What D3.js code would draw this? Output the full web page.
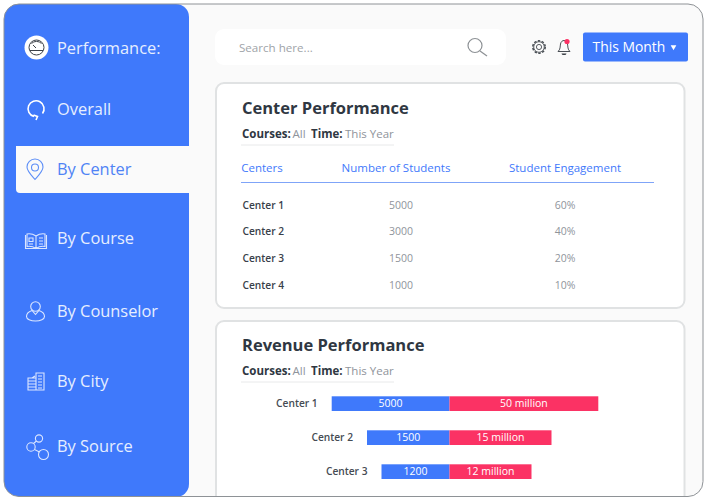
<!DOCTYPE html>
<html>
<head>
<meta charset="utf-8">
<script src="https://cdn.jsdelivr.net/npm/d3@7"></script>
<style>
  html, body { margin: 0; padding: 0; background: #fff; }
  svg { display: block; font-family: "Open Sans", "Noto Sans", sans-serif; }
</style>
</head>
<body>
<div id="chart"></div>
<script>
const navItems = ["Overall", "By Center", "By Course", "By Counselor", "By City", "By Source"];
const tableHeaders = ["Centers", "Number of Students", "Student Engagement"];
const tableCenters = ["Center 1", "Center 2", "Center 3", "Center 4"];
const tableStudents = ["5000", "3000", "1500", "1000"];
const tableEngagement = ["60%", "40%", "20%", "10%"];
const barCenters = ["Center 1", "Center 2", "Center 3"];
const barStudents = [5000, 1500, 1200];
const barRevenue = [50, 15, 12];

const WIDTH = 707;
const HEIGHT = 500;
const BLUE = "#3f79fb";
const RED = "#fb3264";
const DARK = "#2f3742";
const GREY = "#8f949b";
const NAV_TEXT = "#e6eeff";

const svg = d3.select("#chart").append("svg")
  .attr("width", WIDTH).attr("height", HEIGHT)
  .attr("viewBox", [0, 0, WIDTH, HEIGHT]);

const clipFrame = svg.append("clipPath").attr("id", "frame");
clipFrame.append("rect").attr("x", 4).attr("y", 4).attr("width", 699).attr("height", 492.5).attr("rx", 15);

const page = svg.append("g").attr("clip-path", "url(#frame)");
page.append("rect").attr("x", 4).attr("y", 4).attr("width", 699).attr("height", 493).attr("fill", "#fafafa");

// cards go first, the frame outline has to sit over them
function drawCard(y, h) {
  page.append("rect")
    .attr("x", 216).attr("y", y).attr("width", 468.5).attr("height", h).attr("rx", 8)
    .attr("fill", "#fff").attr("stroke", "#e0e2e3").attr("stroke-width", 2);
}

function text(parent, x, y, str, size, fill, weight = 400, anchor = "start") {
  return parent.append("text")
    .attr("x", x).attr("y", y)
    .attr("font-size", size)
    .attr("font-weight", weight)
    .attr("fill", fill)
    .attr("text-anchor", anchor)
    .text(str);
}

function drawCardHead(title, y) {
  text(page, 242, y, title, 16.5, DARK, 700);
  const sub = page.append("text").attr("y", y + 23.5).attr("font-size", 11.5);
  sub.append("tspan").attr("x", 242).attr("font-weight", 700).attr("fill", DARK).text("Courses:");
  sub.append("tspan").attr("x", 292.5).attr("fill", GREY).text("All");
  sub.append("tspan").attr("x", 311).attr("font-weight", 700).attr("fill", DARK).text("Time:");
  sub.append("tspan").attr("x", 345).attr("fill", GREY).text("This Year");
  page.append("line")
    .attr("x1", 241).attr("x2", 394).attr("y1", y + 31).attr("y2", y + 31)
    .attr("stroke", "#e8e9ea").attr("stroke-width", 1);
}

// search bar + top right controls
page.append("rect").attr("x", 215).attr("y", 29).attr("width", 291).attr("height", 36).attr("rx", 9).attr("fill", "#fff");
text(page, 239, 52, "Search here...", 11.6, "#a0a4a9");
const search = page.append("g").attr("fill", "none").attr("stroke", "#8d9195").attr("stroke-width", 1.2);
search.append("circle").attr("cx", 475).attr("cy", 45.5).attr("r", 7);
search.append("line").attr("x1", 480).attr("y1", 51).attr("x2", 487).attr("y2", 56);

const gear = page.append("g").attr("fill", "none").attr("stroke", "#4a4f55").attr("stroke-width", 0.9);
gear.append("circle").attr("cx", 539).attr("cy", 47).attr("r", 2.6);
gear.append("circle").attr("cx", 539).attr("cy", 47).attr("r", 6.2).attr("stroke-width", 1.6).attr("stroke-dasharray", "2.4 1.5");
gear.append("circle").attr("cx", 539).attr("cy", 47).attr("r", 5.3);

const bell = page.append("g").attr("fill", "none").attr("stroke", "#4a4f55").attr("stroke-width", 1);
bell.append("path").attr("d", "M558 51.5 c2.5 -2 2 -5 2.5 -7.5 c0.5 -2.5 2 -3.5 3.5 -3.5 c1.5 0 3 1 3.5 3.5 c0.5 2.5 0 5.5 2.5 7.5 z");
page.append("path").attr("d", "M561.5 53.5 h5 a2.5 1.6 0 0 1 -5 0z").attr("fill", "#33383e");
page.append("circle").attr("cx", 567).attr("cy", 41.5).attr("r", 2.6).attr("fill", RED);

page.append("rect").attr("x", 583).attr("y", 32.5).attr("width", 105).attr("height", 29).attr("rx", 2).attr("fill", BLUE);
text(page, 592.5, 51.5, "This Month", 13.9, "#fff");
page.append("path").attr("d", d3.symbol(d3.symbolTriangle, 14)()).attr("transform", "translate(673.5,47) rotate(180)").attr("fill", "#fff");

// center performance table
drawCard(83, 225);
drawCardHead("Center Performance", 114);

const headX = [262, 396, 565];
tableHeaders.forEach((h, i) => {
  text(page, headX[i], 172, h, 11.5, BLUE, 400, "middle");
});
page.append("line").attr("x1", 241).attr("x2", 654).attr("y1", 182.5).attr("y2", 182.5)
  .attr("stroke", "#7fa4f8").attr("stroke-width", 1.2);

const rowY = d3.scalePoint().domain(tableCenters).range([208.5, 288.5]);
tableCenters.forEach((c, i) => {
  text(page, 242.5, rowY(c), c, 10.2, "#38404a", 600);
  text(page, 401, rowY(c), tableStudents[i], 10.5, GREY, 400, "middle");
  text(page, 565, rowY(c), tableEngagement[i], 10.5, GREY, 400, "middle");
});

// revenue card, runs past the bottom of the frame
drawCard(321, 200);
drawCardHead("Revenue Performance", 351);

const BAR_ORIGIN = 449.5;
// bars in the picture are not to a linear scale, so both scales are piecewise
const studentScale = d3.scaleLinear().domain([0, 1200, 1500, 5000]).range([0, 68, 82.5, 117.8]);
const revenueScale = d3.scaleLinear().domain([0, 12, 15, 50]).range([0, 82, 102, 148.8]);
const barY = d3.scaleBand().domain(barCenters).range([396.3, 479]).paddingInner(0.568).paddingOuter(0);

const rows = page.selectAll(".bar-row").data(barCenters).join("g").attr("class", "bar-row");
rows.append("rect")
  .attr("x", (d, i) => BAR_ORIGIN - studentScale(barStudents[i]))
  .attr("y", d => barY(d))
  .attr("width", (d, i) => studentScale(barStudents[i]))
  .attr("height", barY.bandwidth())
  .attr("fill", BLUE);
rows.append("rect")
  .attr("x", BAR_ORIGIN)
  .attr("y", d => barY(d))
  .attr("width", (d, i) => revenueScale(barRevenue[i]))
  .attr("height", barY.bandwidth())
  .attr("fill", RED);
rows.append("text")
  .attr("x", (d, i) => BAR_ORIGIN - studentScale(barStudents[i]) - 14)
  .attr("y", d => barY(d) + barY.bandwidth() / 2 + 3.8)
  .attr("text-anchor", "end").attr("font-size", 10.2).attr("font-weight", 600).attr("fill", "#454b53")
  .text(d => d);
rows.append("text")
  .attr("x", (d, i) => BAR_ORIGIN - studentScale(barStudents[i]) / 2)
  .attr("y", d => barY(d) + barY.bandwidth() / 2 + 3.8)
  .attr("text-anchor", "middle").attr("font-size", 10.5).attr("fill", "#fff")
  .text((d, i) => barStudents[i]);
rows.append("text")
  .attr("x", (d, i) => BAR_ORIGIN + revenueScale(barRevenue[i]) / 2)
  .attr("y", d => barY(d) + barY.bandwidth() / 2 + 3.8)
  .attr("text-anchor", "middle").attr("font-size", 10.5).attr("fill", "#fff")
  .text((d, i) => `${barRevenue[i]} million`);

// sidebar
const side = svg.append("g").attr("clip-path", "url(#frame)");
side.append("path")
  .attr("d", "M4 4 H176 a13 13 0 0 1 13 13 V484 a13 13 0 0 1 -13 13 H4 z")
  .attr("fill", BLUE);

side.append("circle").attr("cx", 36.5).attr("cy", 47.5).attr("r", 12).attr("fill", "#fff");
const gauge = side.append("g").attr("fill", "none").attr("stroke", "#3c4148").attr("stroke-width", 1);
gauge.append("circle").attr("cx", 36.5).attr("cy", 47.5).attr("r", 7.5);
gauge.append("path").attr("d", "M30 50.5 h13 M36 48 l-3 -3 M31.5 43.5 a7 7 0 0 1 10 0");
text(side, 57, 54, "Performance:", 16.4, NAV_TEXT);

side.append("path")
  .attr("d", "M16 146 H189 V193 H20 a4 4 0 0 1 -4 -4 z")
  .attr("fill", "#fafafa");

const navY = [115, 175, 244, 317, 387, 451.5];
navItems.forEach((item, i) => {
  text(side, 57, navY[i], item, 16.4, i === 1 ? "#4f83f5" : NAV_TEXT);
});

function icon(color) {
  return side.append("g").attr("fill", "none").attr("stroke", color).attr("stroke-width", 1.1);
}

const overall = icon("#fff").attr("stroke-width", 1.6);
overall.append("path").attr("d", "M34 116.5 a8 8 0 1 1 8.5 -3 M36 120 l1.5 -3.5 l-4 -1.5");

const pin = icon("#5e8ff7");
pin.append("path").attr("d", "M35 179.5 c-4 -4.5 -8 -8.5 -8 -12.5 a8 8 0 0 1 16 0 c0 4 -4 8 -8 12.5 z");
pin.append("circle").attr("cx", 35).attr("cy", 167.5).attr("r", 3.5);

const book = icon("#dbe6ff");
book.append("path").attr("d", "M36 236 c-3 -2 -6 -2.5 -9 -2 v12.5 c3 -0.5 6 0 9 2 c3 -2 6 -2.5 9 -2 v-12.5 c-3 -0.5 -6 0 -9 2 z M36 236 v12.5");
book.append("path").attr("d", "M25.5 235 v13.5 h21 v-13.5");
book.append("path").attr("d", "M29 238 h4 v3.5 h-4 z M29 244 h4 M39 238 h4 M39 241 h4 M39 244 h4");

const person = icon("#dbe6ff");
person.append("circle").attr("cx", 35.5).attr("cy", 306.5).attr("r", 4.8);
person.append("path").attr("d", "M32 310.5 c-3 1 -5.5 3 -5.5 6 c0 2.5 4 4.5 9 4.5 s9 -2 9 -4.5 c0 -3 -2.5 -5 -5.5 -6 l-3.5 4 z");

const city = icon("#dbe6ff");
city.append("path").attr("d", "M28 390 v-12 h8 v12 z M32 378 l3 -2 M36 390 v-17 h8 v17 h-8 M28 381 h8 M28 384 h8 M28 387 h8 M38 376 h4 M38 379 h4 M38 382 h4 M38 385 h4 M38 388 h4");

const source = icon("#dbe6ff");
source.append("circle").attr("cx", 39).attr("cy", 438.5).attr("r", 3.6);
source.append("circle").attr("cx", 31).attr("cy", 447).attr("r", 4.2);
source.append("circle").attr("cx", 43.5).attr("cy", 454.5).attr("r", 5);
source.append("path").attr("d", "M36.5 441 l-3 2.5 M34.5 449.5 l5 2.5");

// thin frame on top of everything
svg.append("rect").attr("x", 4).attr("y", 4).attr("width", 699).attr("height", 492.5).attr("rx", 15)
  .attr("fill", "none").attr("stroke", "#8e9296").attr("stroke-width", 1);
</script>
</body>
</html>
